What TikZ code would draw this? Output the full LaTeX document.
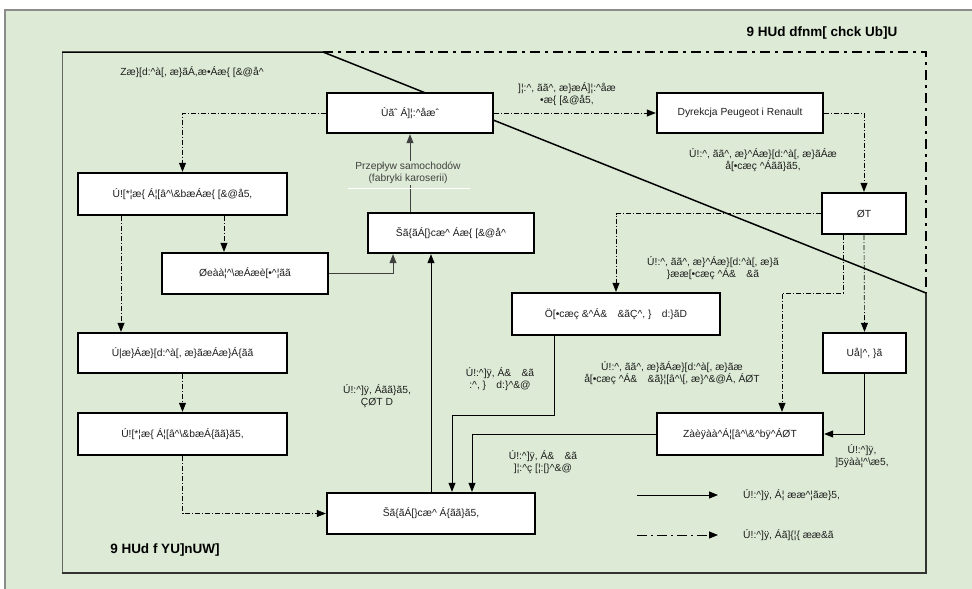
\documentclass[tikz,border=0pt]{standalone}
\usepackage{fontspec}
\setmainfont{Liberation Sans}
\usetikzlibrary{arrows.meta}
\definecolor{bg}{RGB}{221,235,214}
\definecolor{txt}{RGB}{30,30,30}
\newcommand\crt{\textasciicircum}
\newcommand\fs{\fontsize{10.3}{12}\selectfont}
\newcommand\fsb{\bfseries\fontsize{13.5}{15}\selectfont}
\tikzset{
  box/.style={draw=black, line width=2.4pt, fill=white, inner sep=0pt, font=\fs, text=txt},
  lab/.style={align=center, font=\fs, text=txt, inner sep=1pt},
  dd/.style={draw=black, line width=0.7pt, dash pattern=on 5pt off 2pt on 1pt off 2pt},
  sl/.style={draw=black, line width=0.8pt},
  tip/.style={-{Triangle[length=9pt,width=7pt]}},
}
\begin{document}
\begin{tikzpicture}[x=1pt,y=-1pt]
\useasboundingbox (0,0) rectangle (972,589);
\fill[white] (0,0) rectangle (972,589);
\fill[bg] (5,10) rectangle (972,589);
\draw[black!45, line width=1.5pt] (5,589) -- (5,10) -- (972,10);
% frame
\draw[black!60, line width=0.8pt] (62,52) -- (62,573);
\draw[black!80, line width=1.2pt] (62,573) -- (926,573) -- (926,293);
\draw[black, line width=1.5pt] (62,52) -- (323,52) -- (926,293);
\draw[black, line width=1.5pt, dash pattern=on 10pt off 5pt on 3pt off 5pt] (323,52) -- (926,52) -- (926,293);

\node[font=\fsb, text=black] (title) at (822,33) {9 HUd dfnm[ chck Ub]U};
\node[font=\fsb, text=black] (bl) at (165,550) {9 HUd f YU]nUW]};

% boxes
\node[box, minimum width=166, minimum height=40] (Ua) at (410,113) {Ùãˆ Á]¦:\crt{}åæˆ};
\node[box, minimum width=166, minimum height=40] (Dyr) at (740,113) {Dyrekcja Peugeot i Renault};
\node[box, minimum width=84, minimum height=41] (OT) at (864,213.5) {ØT};
\node[box, minimum width=209, minimum height=42] (P1) at (182.5,194) {Ú![*¦æ\{ Á¦[â\crt{}\textbackslash\&bæÁæ\{ [\&@å5,};
\node[box, minimum width=166, minimum height=40] (K1) at (451,233) {Šã\{ãÁ[\}cæ\crt{} Áæ\{ [\&@å\crt{}};
\node[box, minimum width=166, minimum height=41] (L) at (245,273.5) {Øeàà¦\crt{}\textbackslash æÁæè[•\crt{}¦ãã};
\node[box, minimum width=208, minimum height=42] (D) at (616,314) {Ö[•cæç \&\crt{}Á\&\quad\&ãÇ\crt{}, \}\quad d:\}ãD};
\node[box, minimum width=83, minimum height=40] (U) at (864.5,353) {Uå|\crt{}, \}ã};
\node[box, minimum width=209, minimum height=40] (P2) at (182.5,353) {Ú|æ\}Áæ\}[d:\crt{}à[, æ\}ãæÁæ\}Á\{ãã};
\node[box, minimum width=209, minimum height=42] (P3) at (182.5,434) {Ú![*¦æ\{ Á¦[â\crt{}\textbackslash\&bæÁ\{ãã\}ã5,};
\node[box, minimum width=166, minimum height=42] (Z) at (740,434) {Zàèÿàà\crt{}Á¦[â\crt{}\textbackslash\&\crt{}bÿ\crt{}ÁØT};
\node[box, minimum width=208, minimum height=41] (K2) at (431,513.5) {Šã\{ãÁ[\}cæ\crt{} Á\{ãã\}ã5,};

% dash-dot connectors
\draw[dd, tip] (Ua.west) -| (P1.north);
\draw[dd, tip] (Ua.east) -- (Dyr.west);
\draw[dd, tip] (Dyr.east) -| (OT.north);
\draw[dd, tip] (OT.west) -| (D.north);
\draw[dd, tip] (OT.south) -- (U.north);
\coordinate (f0) at ([xshift=-21pt]OT.south);
\coordinate (f1) at (782,293);
\draw[dd, tip] (f0) |- (f1) -- (f1 |- Z.north);
\coordinate (m1) at ([xshift=41.5pt]P1.south);
\draw[dd, tip] (m1) -- (m1 |- L.north);
\coordinate (n1) at ([xshift=-61.5pt]P1.south);
\draw[dd, tip] (n1) -- (n1 |- P2.north);
\draw[dd, tip] (P2.south) -- (P3.north);
\draw[dd, tip] (P3.south) |- (K2.west);

% solid connectors
\draw[sl, tip] (U.south) |- (Z.east);
\coordinate (h1) at ([xshift=41pt]K2.north);
\draw[sl, tip] (Z.west) -| (h1);
\coordinate (i0) at ([xshift=-62pt]D.south);
\coordinate (i1) at ([xshift=21pt]K2.north);
\draw[sl, tip] (i0) -- ++(0,79) -| (i1);
\draw[sl, tip] (K2.north) -- (K2.north |- K1.south);
\coordinate (k1) at ([xshift=-58pt]K1.south);
\draw[sl, draw=black!75, tip] (L.east) -| (k1);
\coordinate (l0) at (K1.north -| Ua.south);
\draw[sl, draw=black!75, tip] (l0) -- (Ua.south);

% labels
\node[lab, fill=bg, text=black!75] (prz) at (408,173) {Przepływ samochodów\\(fabryki karoserii)};
\draw[white, line width=0.8pt] (348,188) -- (470,188);
\node[lab] (t2) at (192,72) {Zæ\}[d:\crt{}à[, æ\}ãÁ,æ•Áæ\{ [\&@å\crt{}};
\node[lab] (t4) at (567,94) {]¦:\crt{}, ãã\crt{}, æ\}æÁ]¦:\crt{}åæ\\•æ\{ [\&@å5,};
\node[lab] (t6) at (763,160) {Ú!:\crt{}, ãã\crt{}, æ\}\crt{}Áæ\}[d:\crt{}à[, æ\}ãÁæ\\å[•cæç \crt{}Áãã\}ã5,};
\node[lab] (t12) at (713,268) {Ú!:\crt{}, ãã\crt{}, æ\}\crt{}Áæ\}[d:\crt{}à[, æ\}ã\\\}ææ[•cæç \crt{}Á\&\quad\&ã};
\node[lab] (t17) at (377,396) {Ú!:\crt{}]ÿ, Áãã\}ã5,\\ÇØT D};
\node[lab] (t18) at (500,379) {Ú!:\crt{}]ÿ, Á\&\quad\&ã\\:\crt{}, \}\quad d:\}\crt{}\&@};
\node[lab] (t19) at (672,373) {Ú!:\crt{}, ãã\crt{}, æ\}ãÁæ\}[d:\crt{}à[, æ\}ãæ\\å[•cæç \crt{}Á\&\quad\&ã\}¦[â\crt{}\textbackslash[, æ\}\crt{}\&@Á, ÁØT};
\node[lab] (t21) at (862,456) {Ú!:\crt{}]ÿ,\\]5ÿàà¦\crt{}\textbackslash æ5,};
\node[lab] (t22) at (543,462) {Ú!:\crt{}]ÿ, Á\&\quad\&ã\\]¦:\crt{}ç [¦:[\}\crt{}\&@};

% legend
\coordinate (lg1a) at (637,495);
\coordinate (lg1b) at (718,495);
\coordinate (lg2a) at (637,535);
\coordinate (lg2b) at (718,535);
\draw[sl, tip] (lg1a) -- (lg1b);
\draw[black, line width=0.8pt, dash pattern=on 10pt off 4pt on 2pt off 4pt, tip] (lg2a) -- (lg2b);
\node[lab, anchor=west] (lt1) at (742,495) {Ú!:\crt{}]ÿ, Á¦ ææ\crt{}¦ãæ\}5,};
\node[lab, anchor=west] (lt2) at (742,535) {Ú!:\crt{}]ÿ, Áã]\{¦\{ ææ\&ã};
\end{tikzpicture}
\end{document}
